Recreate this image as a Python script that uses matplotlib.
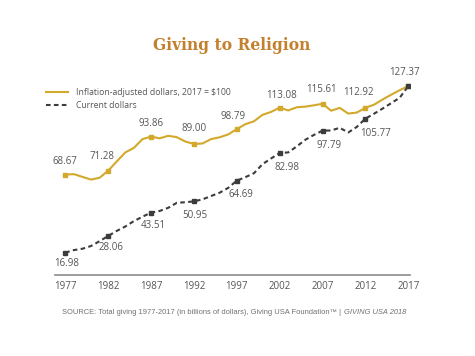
import numpy as np
import matplotlib.pyplot as plt
from matplotlib.lines import Line2D

# ==========================================
# 数据
# ==========================================
years = list(range(1977, 2018))

inflation_adj = [68.67, 69.0, 67.2, 65.4, 66.6, 71.28, 77.4, 83.4, 86.4, 92.2,
                 93.86, 92.7, 94.4, 93.5, 90.6, 89.00, 89.3, 92.2, 93.4, 95.3,
                 98.79, 102.1, 104.0, 108.3, 110.2, 113.08, 111.2, 113.3, 113.7, 114.6,
                 115.61, 111.0, 112.9, 109.1, 109.8, 112.92, 115.0, 118.4, 121.6, 124.6,
                 127.37]

current = [16.98, 18.7, 19.6, 21.4, 24.6, 28.06, 31.4, 34.3, 37.9, 40.8,
           43.51, 44.6, 46.7, 50.0, 50.4, 50.95, 52.3, 54.5, 56.7, 59.9,
           64.69, 67.0, 69.6, 75.6, 79.4, 82.98, 83.4, 87.4, 91.8, 95.0,
           97.79, 97.9, 99.7, 96.6, 100.3, 105.77, 109.0, 112.4, 116.0, 119.6,
           127.37]

marker_years = [1977, 1982, 1987, 1992, 1997, 2002, 2007, 2012, 2017]
tick_labels = [str(y) for y in marker_years]

# 标注偏移 (像素)
adj_offsets = [(0, 13), (-6, 14), (0, 13), (0, 15), (-4, 13),
               (2, 12), (-1, 14), (-7, 15), (-4, 14)]
cur_offsets = [(1, -11), (3, -12), (2, -13), (1, -14), (4, -14),
               (7, -14), (7, -15), (10, -15), None]

GOLD = '#D2A92B'
DARK = '#3C3C3C'
TEXT = '#555555'

plt.rcParams['font.family'] = ['Open Sans', 'DejaVu Sans']

fig = plt.figure(figsize=(4.75, 3.56), dpi=100)
ax = fig.add_axes([55 / 475, 1 - 275 / 356, (410 - 55) / 475, (275 - 60) / 356])

idx = [years.index(y) for y in marker_years]

ax.plot(years, inflation_adj, color=GOLD, lw=1.5, zorder=3)
ax.plot(marker_years, [inflation_adj[i] for i in idx], 's', color=GOLD, ms=3.2, zorder=4)
ax.plot(years, current, color=DARK, lw=1.5, ls=(0, (2.2, 1.6)), zorder=3)
ax.plot(marker_years, [current[i] for i in idx], 's', color=DARK, ms=3.2, zorder=4)

for k, i in enumerate(idx):
    dx, dy = adj_offsets[k]
    ax.annotate(f"{inflation_adj[i]:.2f}", (years[i], inflation_adj[i]),
                xytext=(dx * 0.72, dy * 0.72), textcoords='offset points',
                ha='center', va='center', fontsize=7, color=TEXT)
    if cur_offsets[k] is not None:
        dx, dy = cur_offsets[k]
        ax.annotate(f"{current[i]:.2f}", (years[i], current[i]),
                    xytext=(dx * 0.72, dy * 0.72), textcoords='offset points',
                    ha='center', va='center', fontsize=7, color=TEXT)

ax.set_xlim(1975.8, 2017.2)
ax.set_ylim(2.2, 144.6)
ax.set_xticks(marker_years)
ax.set_xticklabels(tick_labels)
ax.set_yticks([])
ax.tick_params(axis='x', length=0, labelsize=7, labelcolor=TEXT, pad=4)
for s in ['top', 'right', 'left']:
    ax.spines[s].set_visible(False)
ax.spines['bottom'].set_color('#8C8C8C')
ax.spines['bottom'].set_linewidth(1.2)

# 标题
fig.text(232 / 475, 1 - 45 / 356, "Giving to Religion", ha='center', va='center',
         fontsize=11.2, fontweight='bold', color='#C47F2C', family='DejaVu Serif')

# 图例
handles = [Line2D([], [], color=GOLD, lw=1.5),
           Line2D([], [], color=DARK, lw=1.5, ls=(0, (2.2, 1.6)))]
fig.legend(handles, ["Inflation-adjusted dollars, 2017 = $100", "Current dollars"],
           loc='upper left', bbox_to_anchor=(38 / 475, 1 - 80 / 356), frameon=False,
           fontsize=6.2, handlelength=2.6, handletextpad=0.9, labelspacing=0.55,
           labelcolor=TEXT)

# 来源 (两段拼接)
src = fig.text(62 / 475, 1 - 313 / 356,
               "SOURCE: Total giving 1977-2017 (in billions of dollars), Giving USA Foundation\u2122 |",
               ha='left', va='center', fontsize=5.4, color='#707070', family='Liberation Sans')
renderer = fig.canvas.get_renderer()
bb = src.get_window_extent(renderer=renderer)
fig.text((bb.x1 + 3) / fig.bbox.width, 1 - 313 / 356, "GIVING USA 2018", ha='left', va='center',
         fontsize=5.4, color='#707070', style='italic', family='Liberation Sans')

fig.savefig('out.png', dpi=100)
